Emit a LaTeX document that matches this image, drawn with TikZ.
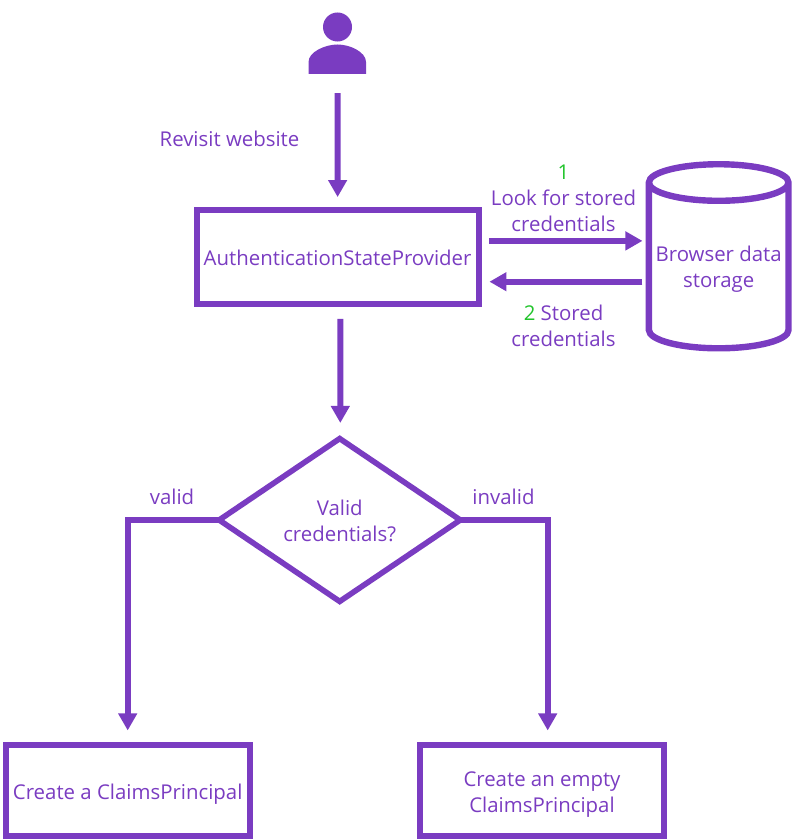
\documentclass[tikz,border=0pt]{standalone}
\usepackage{fontspec}
\setmainfont{Open Sans}
\usetikzlibrary{arrows.meta, shapes.geometric}
\definecolor{authpurple}{RGB}{122, 60, 193}
\definecolor{stepgreen}{RGB}{34, 196, 44}
\tikzset{
  every node/.style={font=\fontsize{14.5}{18.5}\selectfont, text=authpurple, align=center, outer sep=0pt},
  flowbox/.style={draw=authpurple, line width=0.15cm, rectangle, inner sep=0pt},
  flowarrow/.style={draw=authpurple, line width=0.15cm, -{Triangle[length=4.25mm, width=4.5mm]}}
}
\begin{document}
\begin{tikzpicture}[x=0.025cm, y=-0.025cm]
  \useasboundingbox (0,0) rectangle (800,840);
  % User icon
  \node[circle, fill=authpurple, inner sep=0pt, minimum size=0.725cm] (userhead) at (337.5,27) {};
  \fill[authpurple] (308.5,74) -- (308.5,62) .. controls (308.5,52) and (325,44.5) .. (337.5,44.5)
    .. controls (350,44.5) and (366,52) .. (366,62) -- (366,74) -- cycle;
  \coordinate (userfeet) at (337.7,74);
  % Boxes
  \node[flowbox, minimum width=7.05cm, minimum height=2.34cm, text height=13pt] (provider) at (337.6,256.9) {AuthenticationStateProvider};
  \node[cylinder, draw=authpurple, line width=0.16cm, shape border rotate=90, aspect=0.29,
    minimum width=3.49cm, minimum height=4.6cm, inner sep=0pt, text height=33pt] (datastore) at (718.7,267) {Browser data\\storage};
  \node[diamond, draw=authpurple, line width=0.14cm, inner sep=0pt, aspect=1.45,
    minimum width=6.025cm, minimum height=4.07cm, text height=31pt] (decision) at (339.7,520) {Valid\\credentials?};
  \node[flowbox, minimum width=6.09cm, minimum height=2.28cm, text height=16pt] (validbox) at (127.7,790.5) {Create a ClaimsPrincipal};
  \node[flowbox, minimum width=6.12cm, minimum height=2.28cm, text height=34.5pt] (emptybox) at (542,790.5) {Create an empty\\ClaimsPrincipal};
  % Labels
  \node (revisitlabel) at (229.5,139) {Revisit website};
  \node (looklabel) at (563.5,198.5) {\textcolor{stepgreen}{1}\\Look for stored\\credentials};
  \node (storedlabel) at (563.5,326) {\textcolor{stepgreen}{2} Stored\\credentials};
  \node (validlabel) at (172,497) {valid};
  \node (invalidlabel) at (503.5,497) {invalid};
  % Arrows
  \draw[flowarrow, shorten <=0.475cm, shorten >=0.325cm] (userfeet) -- (provider.north);
  \draw[flowarrow, shorten <=0.2575cm, shorten >=0.16cm] ([yshift=0.4cm]provider.east) -- ([yshift=0.4cm]provider.east -| datastore.west);
  \draw[flowarrow, shorten <=0.16cm, shorten >=0.27cm] ([yshift=-0.62cm]provider.east -| datastore.west) -- ([yshift=-0.62cm]provider.east);
  \draw[flowarrow, shorten <=0.38cm, shorten >=0.39cm] ([xshift=0.0675cm]provider.south) -- ([xshift=0.015cm]decision.north);
  \draw[flowarrow, shorten >=0.36cm] (decision.west) -| (validbox.north);
  \draw[flowarrow, shorten >=0.36cm] (decision.east) -| ([xshift=0.1425cm]emptybox.north);
\end{tikzpicture}
\end{document}
